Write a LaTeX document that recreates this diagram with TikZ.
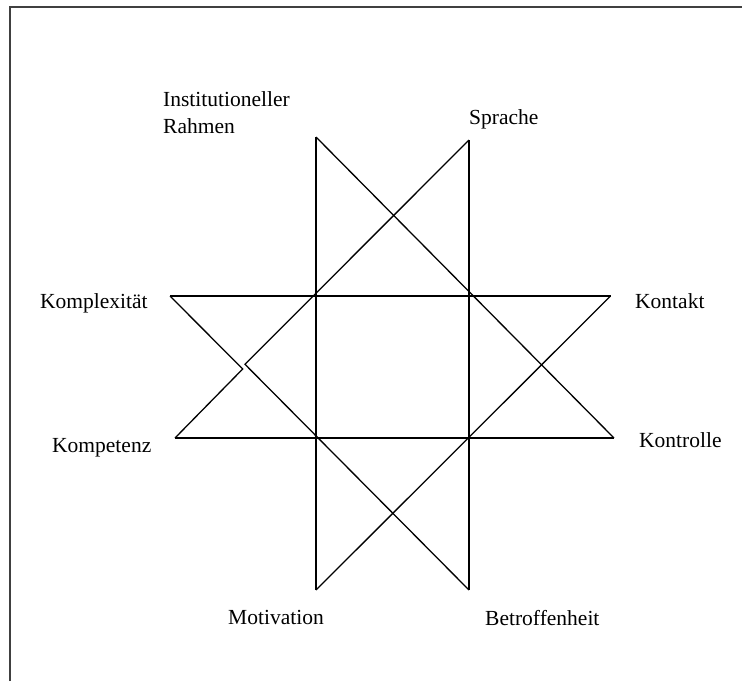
\documentclass[tikz,border=0pt]{standalone}
\usepackage{fontspec}
\setmainfont{Liberation Serif}
\begin{document}
\begin{tikzpicture}[x=1pt,y=-1pt]
	\useasboundingbox (0,0) rectangle (742,681);
	% frame
	\coordinate (F1) at (9.5,681);
	\coordinate (F2) at (9.5,7);
	\coordinate (F3) at (742,7);
	\draw [line width=2pt, black!75] (F1) -- (F2) -- (F3);
	% tips of the star
	\coordinate (TL) at (316,137);
	\coordinate (TR) at (469,140);
	\coordinate (RT) at (610.5,296);
	\coordinate (RB) at (614,438);
	\coordinate (BR) at (469,590);
	\coordinate (BL) at (316,590);
	\coordinate (LB) at (175,438);
	\coordinate (LT) at (170,296);
	\coordinate (N1) at (242.7,369);
	\coordinate (N2) at (245,364.3);
	\begin{scope}[every node/.style={inner sep=0pt,anchor=base west,font=\fontsize{21.5}{27}\selectfont}]
	\node (ir) at (163,133) [align=left] {Institutioneller\\Rahmen};
	\node (sp) at (469,124) {Sprache};
	\node (kx) at (40,308) {Komplexität};
	\node (kt) at (635,308) {Kontakt};
	\node (kp) at (52,452) {Kompetenz};
	\node (kr) at (639,447) {Kontrolle};
	\node (mo) at (228,624) {Motivation};
	\node (be) at (485,625) {Betroffenheit};
	\end{scope}
	\draw [line width=1.3pt] (TL) -- (BL);
	\draw [line width=1.3pt] (TR) -- (BR);
	\draw [line width=1.3pt] (LT) -- (RT);
	\draw [line width=1.3pt] (LB) -- (RB);
	\draw [line width=1.3pt] (TL) -- (RB);
	\draw [line width=1.3pt] (RT) -- (BL);
	\draw [line width=1.3pt] (TR) -- (N2) -- (BR);
	\draw [line width=1.3pt] (LT) -- (N1) -- (LB);
\end{tikzpicture}
\end{document}
